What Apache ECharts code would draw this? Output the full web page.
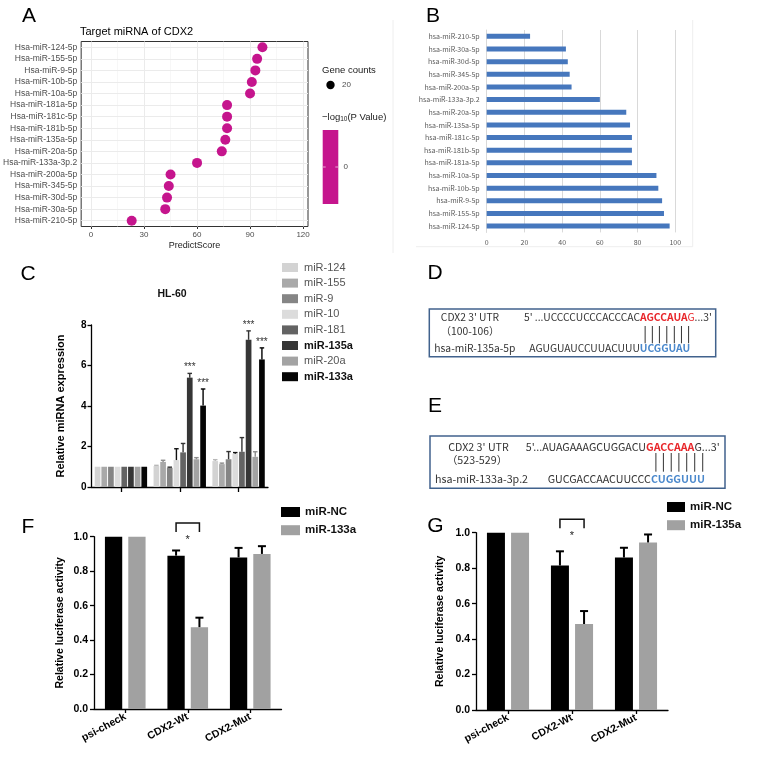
<!DOCTYPE html>
<html><head><meta charset="utf-8">
<script src="https://cdn.jsdelivr.net/npm/echarts@6/dist/echarts.min.js"></script>
<style>html,body{margin:0;padding:0;background:#fff}#c{width:760px;height:758px}</style>
</head><body><div id="c"></div>
<script>
// ---------- Panel A data ----------
const aCategories = ['Hsa-miR-124-5p','Hsa-miR-155-5p','Hsa-miR-9-5p','Hsa-miR-10b-5p','Hsa-miR-10a-5p','Hsa-miR-181a-5p','Hsa-miR-181c-5p','Hsa-miR-181b-5p','Hsa-miR-135a-5p','Hsa-miR-20a-5p','Hsa-miR-133a-3p.2','Hsa-miR-200a-5p','Hsa-miR-345-5p','Hsa-miR-30d-5p','Hsa-miR-30a-5p','Hsa-miR-210-5p'];
const aScores = [97,94,93,91,90,77,77,77,76,74,60,45,44,43,42,23];
const aMajorTicks = [0,30,60,90,120];
const aMinorTicks = [15,45,75,105];
const aGeneCount = 20;
const aPValueTick = 0;
// ---------- Panel B data ----------
const bCategories = ['hsa-miR-124-5p','hsa-miR-155-5p','hsa-miR-9-5p','hsa-miR-10b-5p','hsa-miR-10a-5p','hsa-miR-181a-5p','hsa-miR-181b-5p','hsa-miR-181c-5p','hsa-miR-135a-5p','hsa-miR-20a-5p','hsa-miR-133a-3p.2','hsa-miR-200a-5p','hsa-miR-345-5p','hsa-miR-30d-5p','hsa-miR-30a-5p','hsa-miR-210-5p'];
const bScores = [97,94,93,91,90,77,77,77,76,74,60,45,44,43,42,23];
// ---------- Panel C data ----------
const cGroups = ['Group 1','Group 2','Group 3'];
const cSeriesNames = ['miR-124','miR-155','miR-9','miR-10','miR-181','miR-135a','miR-20a','miR-133a'];
const cMeans = [
  [1,1.04,1.28],[1,1.24,1.13],[1,0.95,1.37],[1,1.33,1.64],
  [1,1.71,1.74],[1,5.4,7.27],[1,1.37,1.49],[1,4.02,6.3]];
const cErrors = [
  [0,0.03,0.07],[0,0.08,0.05],[0,0.03,0.38],[0,0.56,0.06],
  [0,0.44,0.7],[0,0.21,0.44],[0,0.08,0.25],[0,0.82,0.57]];
const cStars = [
  ['','',''],['','',''],['','',''],['','',''],
  ['','',''],['','***','***'],['','',''],['','***','***']];
const cBold = ['miR-135a','miR-133a'];
// ---------- Panel F data ----------
const luciferaseGroups = ['psi-check','CDX2-Wt','CDX2-Mut'];
const fNames = ['miR-NC','miR-133a'];
const fMeans = [[1,0.89,0.88],[1,0.475,0.90]];
const fErrors = [[0,0.03,0.055],[0,0.055,0.045]];
const fSig = [{group:1, y:1.08, mark:'*'}];
// ---------- Panel G data ----------
const gNames = ['miR-NC','miR-135a'];
const gMeans = [[1,0.815,0.86],[1,0.485,0.945]];
const gErrors = [[0,0.08,0.055],[0,0.073,0.045]];
const gSig = [{group:1, y:1.076, mark:'*'}];
// ---------- Panels D / E (sequence text) ----------
const dInfo = {utr:"CDX2 3' UTR", pos:'（100-106）', mir:'hsa-miR-135a-5p',
  up:["5' ...UCCCCUCCCACCCAC",'AGCCAUA','G','...3\''], low:['AGUGUAUCCUUACUUU','UCGGUAU']};
const eInfo = {utr:"CDX2 3' UTR", pos:'（523-529）', mir:'hsa-miR-133a-3p.2',
  up:["5'...AUAGAAAGCUGGACU",'GACCAAA','','G...3\''], low:['GUCGACCAACUUCCC','CUGGUUU']};

// ---------- styles ----------
const SANS = 'Liberation Sans';
const CJK = 'Noto Sans CJK SC';
const magenta = '#C5158D';
const cColors = ['#d3d3d3','#a9a9a9','#858585','#dcdcdc','#636363','#363636','#a3a3a3','#050505'];
const cErrColors = ['#b8b8b8','#8e8e8e','#333333','#111111','#333333','#333333','#8c8c8c','#000000'];
const cBarW = 5.7, cGap = 0.17, cPitch = cBarW*(1+cGap);
const fBarW = 17.3, fGap = 0.35, fPitch = fBarW*(1+fGap);
const gBarW = 18, gGap = 0.34, gPitch = gBarW*(1+gGap);
const lucColors = ['#000000','#a1a1a1'];

const chart = echarts.init(document.getElementById('c'), null, {renderer:'canvas', width:760, height:758});

// canvas text measurement for the sequence diagrams
const mctx = document.createElement('canvas').getContext('2d');
function fontStr(size, bold, fam){ return (bold?'bold ':'normal ')+size+'px "'+fam+'"'; }
function tw(t, size, bold, fam){ mctx.font = fontStr(size,bold,fam); return mctx.measureText(t).width; }

function errRender(pitch, nSeries, colors, starsFn, lw, capW){
  return function(params, api){
    const cat = api.value(0), mean = api.value(1), err = api.value(2), si = api.value(3);
    const base = api.coord([cat, mean]);
    const top = api.coord([cat, mean+err]);
    const x = base[0] + (si - (nSeries-1)/2)*pitch;
    const ch = [];
    const col = colors[si];
    if (err > 0) {
      ch.push({type:'line', shape:{x1:x,y1:base[1],x2:x,y2:top[1]}, style:{stroke:col, lineWidth:lw}});
      ch.push({type:'line', shape:{x1:x-capW/2,y1:top[1],x2:x+capW/2,y2:top[1]}, style:{stroke:col, lineWidth:lw}});
    }
    const s = starsFn ? starsFn(si, cat) : '';
    if (s) ch.push({type:'text', x:x, y:top[1]-1, style:{text:s, fill:'#333', fontSize:10, fontFamily:SANS, align:'center', verticalAlign:'bottom'}});
    return {type:'group', children:ch};
  };
}
function bracketRender(pitch, sigArr){
  return function(params, api){
    const c = api.coord([api.value(0), api.value(1)]);
    const x1 = c[0]-pitch/2, x2 = c[0]+pitch/2;
    return {type:'group', children:[
      {type:'polyline', shape:{points:[[x1,c[1]+9],[x1,c[1]],[x2,c[1]],[x2,c[1]+9]]}, style:{stroke:'#111', lineWidth:1.5, fill:null}},
      {type:'text', x:c[0], y:c[1]+17, style:{text:sigArr[params.dataIndex].mark, fill:'#222', fontSize:11, fontFamily:SANS, align:'center', verticalAlign:'middle'}}
    ]};
  };
}

// ---------- graphic elements ----------
const G = [];
function label(t, x, y){ G.push({type:'text', x, y, style:{text:t, fontSize:21, fontFamily:SANS, fill:'#000', align:'center', verticalAlign:'middle'}}); }
label('A',29,16); label('B',433,16); label('C',28,274); label('D',435,273); label('E',435,406.5); label('F',28,527); label('G',435.5,526);

// Panel A legend
G.push({type:'text', x:322, y:70, style:{text:'Gene counts', fontSize:9.5, fontFamily:SANS, fill:'#1a1a1a', align:'left', verticalAlign:'middle'}});
G.push({type:'circle', shape:{cx:330.5, cy:85, r:4.2}, style:{fill:'#000'}});
G.push({type:'text', x:342, y:85, style:{text:String(aGeneCount), fontSize:8, fontFamily:SANS, fill:'#4d4d4d', align:'left', verticalAlign:'middle'}});
(function(){
  let x = 322; const y = 117;
  const p1 = '\u2212log', p2 = '10', p3 = '(P Value)';
  G.push({type:'text', x, y, style:{text:p1, fontSize:9.5, fontFamily:SANS, fill:'#1a1a1a', align:'left', verticalAlign:'middle'}});
  x += tw(p1, 9.5, false, SANS);
  G.push({type:'text', x, y:y+2.5, style:{text:p2, fontSize:6.5, fontFamily:SANS, fill:'#1a1a1a', align:'left', verticalAlign:'middle'}});
  x += tw(p2, 6.5, false, SANS);
  G.push({type:'text', x, y, style:{text:p3, fontSize:9.5, fontFamily:SANS, fill:'#1a1a1a', align:'left', verticalAlign:'middle'}});
})();
G.push({type:'rect', shape:{x:322.7, y:130, width:15.6, height:74}, style:{fill:magenta}});
G.push({type:'line', shape:{x1:322.7,y1:167,x2:325.7,y2:167}, style:{stroke:'#e9a6d3', lineWidth:1}});
G.push({type:'line', shape:{x1:335.3,y1:167,x2:338.3,y2:167}, style:{stroke:'#e9a6d3', lineWidth:1}});
G.push({type:'text', x:343.5, y:167, style:{text:String(aPValueTick), fontSize:8, fontFamily:SANS, fill:'#4d4d4d', align:'left', verticalAlign:'middle'}});

// Panel B faint chart-area frame
G.push({type:'line', shape:{x1:393,y1:20,x2:393,y2:253}, style:{stroke:'#eeeeee', lineWidth:1}});
G.push({type:'line', shape:{x1:416,y1:246.7,x2:692.7,y2:246.7}, style:{stroke:'#eeeeee', lineWidth:1}});
G.push({type:'line', shape:{x1:692.7,y1:20,x2:692.7,y2:246.7}, style:{stroke:'#eeeeee', lineWidth:1}});

// Panels D / E
function seqPanel(info, box, utrC, posC, mirX, upX, upEnd, lowX, yUp, yPos, yLow, lineY1, lineY2){
  G.push({type:'rect', shape:{x:box[0], y:box[1], width:box[2]-box[0], height:box[3]-box[1]}, style:{fill:'none', stroke:'#41628d', lineWidth:1.5}});
  const ref = 10.5;
  const wUp = tw(info.up[0],ref,false,CJK)+tw(info.up[1],ref,true,CJK)+tw(info.up[2],ref,false,CJK)+tw(info.up[3],ref,false,CJK);
  const fs = Math.max(9, Math.min(11.5, ref*(upEnd-upX)/wUp));
  G.push({type:'text', x:utrC, y:yUp, style:{text:info.utr, font:fontStr(fs,false,CJK), fill:'#333', align:'center', verticalAlign:'middle'}});
  G.push({type:'text', x:posC, y:yPos, style:{text:info.pos, font:fontStr(fs,false,CJK), fill:'#333', align:'center', verticalAlign:'middle'}});
  G.push({type:'text', x:mirX, y:yLow, style:{text:info.mir, font:fontStr(fs,false,CJK), fill:'#333', align:'left', verticalAlign:'middle'}});
  let x = upX;
  const segs = [[info.up[0],'#333',false],[info.up[1],'#e8262a',true],[info.up[2],'#e8262a',false],[info.up[3],'#333',false]];
  segs.forEach(s=>{ if(!s[0]) return; G.push({type:'text', x, y:yUp, style:{text:s[0], font:fontStr(fs,s[2],CJK), fill:s[1], align:'left', verticalAlign:'middle'}}); x += tw(s[0],fs,s[2],CJK); });
  x = lowX;
  G.push({type:'text', x, y:yLow, style:{text:info.low[0], font:fontStr(fs,false,CJK), fill:'#333', align:'left', verticalAlign:'middle'}});
  x += tw(info.low[0],fs,false,CJK);
  G.push({type:'text', x, y:yLow, style:{text:info.low[1], font:fontStr(fs,true,CJK), fill:'#4a88cc', align:'left', verticalAlign:'middle'}});
  for (const chr of info.low[1]) {
    const w = tw(chr,fs,true,CJK);
    const cx = x + w/2 + 1.5;
    G.push({type:'line', shape:{x1:cx,y1:lineY1,x2:cx,y2:lineY2}, style:{stroke:'#333', lineWidth:1}});
    x += w;
  }
}
seqPanel(dInfo, [429.3,309,715.7,356.7], 470, 470, 434.3, 524, 712, 529.3, 316.7, 330.7, 348.3, 326, 343.3);
seqPanel(eInfo, [430,436,725,488.3], 478.5, 477, 435, 525.7, 720, 547.7, 446.7, 460, 479.3, 453, 471.7);

// ---------- series ----------
const series = [];
cSeriesNames.forEach((n,i)=>{
  series.push({type:'bar', name:n, xAxisIndex:2, yAxisIndex:2, barWidth:cBarW, barGap:(cGap*100)+'%',
    itemStyle:{color:cColors[i]}, data:cMeans[i], z:2});
});
const cErrData = [];
cMeans.forEach((arr,si)=>arr.forEach((v,ci)=>cErrData.push([ci, v, cErrors[si][ci], si])));
series.push({type:'custom', xAxisIndex:2, yAxisIndex:2, data:cErrData, z:3, clip:false,
  renderItem: errRender(cPitch, cSeriesNames.length, cErrColors, (si,ci)=>cStars[si][ci], 1.4, 4.5)});

// Panel A
series.push({type:'line', xAxisIndex:0, yAxisIndex:0, data:[], z:1, silent:true,
  markLine:{silent:true, symbol:'none', animation:false, label:{show:false},
    lineStyle:{color:'#ebebeb', width:1, type:'solid'},
    data:[...aMajorTicks.map(v=>({xAxis:v})), ...aMinorTicks.map(v=>({xAxis:v, lineStyle:{color:'#f2f2f2', width:0.6, type:'solid'}})), ...aCategories.map(c=>({yAxis:c}))]}});
series.push({type:'scatter', xAxisIndex:0, yAxisIndex:0, symbolSize:10, itemStyle:{color:magenta, opacity:1}, z:5,
  data: aScores.map((v,i)=>[v, aCategories[i]])});

// Panel B
series.push({type:'bar', xAxisIndex:1, yAxisIndex:1, barWidth:5, itemStyle:{color:'#4677bd'}, data:bScores});

// Panel F
fNames.forEach((n,i)=>{
  series.push({type:'bar', name:n, xAxisIndex:3, yAxisIndex:3, barWidth:fBarW, barGap:(fGap*100)+'%', itemStyle:{color:lucColors[i]}, data:fMeans[i]});
});
const fErrData = []; fMeans.forEach((arr,si)=>arr.forEach((v,ci)=>fErrData.push([ci, v, fErrors[si][ci], si])));
series.push({type:'custom', xAxisIndex:3, yAxisIndex:3, data:fErrData, clip:false, z:3,
  renderItem: errRender(fPitch, 2, ['#000','#000'], null, 2, 8)});
series.push({type:'custom', xAxisIndex:3, yAxisIndex:3, data:fSig.map(s=>[s.group, s.y]), clip:false, z:3,
  renderItem: bracketRender(fPitch, fSig)});

// Panel G
gNames.forEach((n,i)=>{
  series.push({type:'bar', name:n, xAxisIndex:4, yAxisIndex:4, barWidth:gBarW, barGap:(gGap*100)+'%', itemStyle:{color:lucColors[i]}, data:gMeans[i]});
});
const gErrData = []; gMeans.forEach((arr,si)=>arr.forEach((v,ci)=>gErrData.push([ci, v, gErrors[si][ci], si])));
series.push({type:'custom', xAxisIndex:4, yAxisIndex:4, data:gErrData, clip:false, z:3,
  renderItem: errRender(gPitch, 2, ['#000','#000'], null, 2, 8)});
series.push({type:'custom', xAxisIndex:4, yAxisIndex:4, data:gSig.map(s=>[s.group, s.y]), clip:false, z:3,
  renderItem: bracketRender(gPitch, gSig)});

const axisBlack = {show:true, lineStyle:{color:'#000', width:1.3}};
const lucY = (idx, gap) => ({gridIndex:idx, type:'value', min:0, max:1, interval:0.2,
  axisLine:axisBlack, axisTick:{show:true, length:4, lineStyle:{color:'#000', width:1.3}},
  axisLabel:{fontSize:10.5, fontWeight:'bold', color:'#000', fontFamily:SANS, margin:6, formatter:v=>v.toFixed(1)},
  splitLine:{show:false}, name:'Relative luciferase activity', nameLocation:'middle', nameRotate:90, nameGap:gap,
  nameTextStyle:{fontSize:10.5, fontWeight:'bold', color:'#000', fontFamily:SANS}});
const lucX = (idx) => ({gridIndex:idx, type:'category', data:luciferaseGroups,
  axisLine:axisBlack, axisTick:{show:true, alignWithLabel:true, length:4, lineStyle:{color:'#000', width:1.3}},
  axisLabel:{interval:0, rotate:28, fontSize:10.5, fontWeight:'bold', color:'#000', fontFamily:SANS, margin:7}});

const option = {
  animation:false,
  backgroundColor:'#fff',
  textStyle:{fontFamily:SANS},
  title:[
    {text:'Target miRNA of CDX2', left:80, top:26, padding:0, textStyle:{fontSize:11, fontWeight:'normal', color:'#000', fontFamily:SANS}},
    {text:'HL-60', left:172, top:289, padding:0, textAlign:'center', textStyle:{fontSize:10.5, fontWeight:'bold', color:'#111', fontFamily:SANS}}
  ],
  legend:[
    {orient:'vertical', left:277, top:257, itemWidth:16, itemHeight:9, itemGap:4.6, icon:'rect', selectedMode:false,
      textStyle:{fontSize:11, color:'#555', fontFamily:SANS, padding:[0,0,0,1]},
      data:cSeriesNames.map(n=>cBold.includes(n)?{name:n, textStyle:{fontWeight:'bold', color:'#111'}}:{name:n})},
    {orient:'vertical', left:276, top:501, itemWidth:19, itemHeight:10, itemGap:6.2, icon:'rect', selectedMode:false,
      textStyle:{fontSize:11.5, fontWeight:'bold', color:'#111', fontFamily:SANS},
      data:fNames.map((n,i)=>({name:n, itemStyle:{color:lucColors[i]}}))},
    {orient:'vertical', left:662, top:496, itemWidth:18, itemHeight:10, itemGap:6.2, icon:'rect', selectedMode:false,
      textStyle:{fontSize:11.5, fontWeight:'bold', color:'#111', fontFamily:SANS},
      data:gNames.map((n,i)=>({name:n, itemStyle:{color:lucColors[i]}}))}
  ],
  grid:[
    {left:79, top:41.5, width:229, height:185, show:true, borderColor:'#333', borderWidth:1, backgroundColor:'rgba(0,0,0,0)'},
    {left:486.7, top:30, width:188.6, height:202.4},
    {left:91.5, top:325, width:176.5, height:162},
    {left:94, top:536.7, width:187.5, height:172.3},
    {left:476, top:532.7, width:192, height:177.3}
  ],
  xAxis:[
    {gridIndex:0, type:'value', min:-5.6, max:122.8, axisLine:{show:false}, splitLine:{show:false},
      axisTick:{show:true, customValues:aMajorTicks, length:2.5, lineStyle:{color:'#333'}},
      axisLabel:{customValues:aMajorTicks, fontSize:8, color:'#4d4d4d', margin:4},
      name:'PredictScore', nameLocation:'middle', nameGap:15, nameTextStyle:{fontSize:9, color:'#222'}},
    {gridIndex:1, type:'value', min:0, max:100, interval:20, axisLine:{show:false}, axisTick:{show:false},
      splitLine:{show:true, lineStyle:{color:'#d9d9d9', width:1}},
      axisLabel:{fontSize:7, color:'#595959', margin:6, fontFamily:CJK}},
    {gridIndex:2, type:'category', data:cGroups, axisLine:axisBlack,
      axisTick:{show:true, alignWithLabel:true, length:5, lineStyle:{color:'#000', width:1.3}},
      axisLabel:{show:false}},
    lucX(3), lucX(4)
  ],
  yAxis:[
    {gridIndex:0, type:'category', data:aCategories, inverse:true, axisLine:{show:false},
      axisTick:{show:true, alignWithLabel:true, interval:0, length:2.5, lineStyle:{color:'#333'}},
      axisLabel:{interval:0, fontSize:8.5, color:'#4d4d4d', margin:4}, splitLine:{show:false}},
    {gridIndex:1, type:'category', data:bCategories, axisLine:{show:true, lineStyle:{color:'#d9d9d9'}}, axisTick:{show:false},
      axisLabel:{interval:0, fontSize:7, color:'#595959', margin:7, fontFamily:CJK}},
    {gridIndex:2, type:'value', min:0, max:8, interval:2, axisLine:axisBlack,
      axisTick:{show:true, length:4, lineStyle:{color:'#000', width:1.3}},
      axisLabel:{fontSize:10, fontWeight:'bold', color:'#000', margin:5}, splitLine:{show:false},
      name:'Relative miRNA expression', nameLocation:'middle', nameRotate:90, nameGap:25,
      nameTextStyle:{fontSize:11, fontWeight:'bold', color:'#000'}},
    lucY(3, 28), lucY(4, 30)
  ],
  series,
  graphic:{elements:G}
};
chart.setOption(option);
</script></body></html>
